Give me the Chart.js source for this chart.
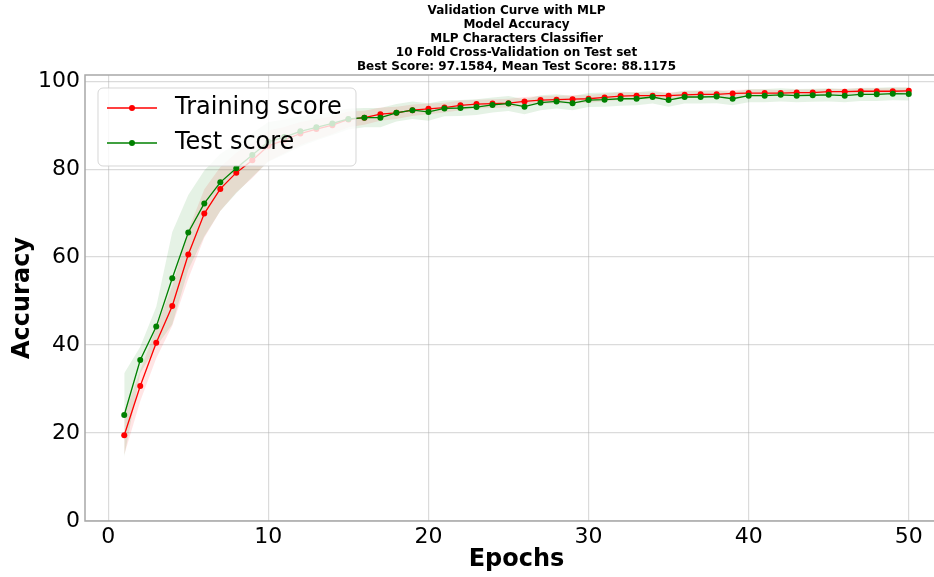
<!DOCTYPE html>
<html>
<head>
<meta charset="utf-8">
<script src="https://cdn.jsdelivr.net/npm/chart.js@4/dist/chart.umd.min.js"></script>
<style>
  html, body { margin: 0; padding: 0; background: #fff; overflow: hidden; }
  #wrap { position: relative; width: 955px; height: 577px; }
</style>
</head>
<body>
<div id="wrap"><canvas id="chart" width="955" height="577"></canvas></div>
<script>
const titleLines = [
    'Validation Curve with MLP',
    'Model Accuracy',
    'MLP Characters Classifier',
    '10 Fold Cross-Validation on Test set',
    'Best Score: 97.1584, Mean Test Score: 88.1175'
];

const epochs = [1, 2, 3, 4, 5, 6, 7, 8, 9, 10,
    11, 12, 13, 14, 15, 16, 17, 18, 19, 20,
    21, 22, 23, 24, 25, 26, 27, 28, 29, 30,
    31, 32, 33, 34, 35, 36, 37, 38, 39, 40,
    41, 42, 43, 44, 45, 46, 47, 48, 49, 50];

const trainMean = [19.5, 30.7, 40.5, 48.9, 60.6, 69.9, 75.5, 79.2, 82.0, 85.3,
    86.6, 88.1, 89.1, 90.0, 91.3, 91.7, 92.5, 92.8, 93.4, 93.7,
    94.0, 94.5, 94.8, 94.9, 95.0, 95.4, 95.7, 95.8, 95.9, 96.0,
    96.3, 96.6, 96.7, 96.7, 96.7, 96.9, 97.0, 97.0, 97.2, 97.3,
    97.3, 97.3, 97.4, 97.4, 97.6, 97.6, 97.7, 97.7, 97.7, 97.8];
const trainStd = [4.5, 3.5, 3.5, 4.5, 5.5, 5.5, 5.0, 4.5, 4.0, 3.5,
    3.0, 2.6, 2.3, 2.0, 1.8, 1.6, 1.5, 1.4, 1.3, 1.2,
    1.1, 1.1, 1.0, 1.0, 1.0, 1.0, 0.9, 0.9, 0.9, 0.9,
    0.9, 0.9, 0.8, 0.8, 0.8, 0.8, 0.8, 0.8, 0.8, 0.8,
    0.8, 0.7, 0.7, 0.7, 0.7, 0.7, 0.7, 0.7, 0.7, 0.7];

const testMean = [24.1, 36.6, 44.2, 55.2, 65.6, 72.2, 77.0, 80.2, 83.2, 86.2,
    87.3, 88.6, 89.5, 90.4, 91.4, 91.7, 91.7, 92.8, 93.4, 93.0,
    93.8, 93.9, 94.1, 94.6, 94.9, 94.2, 95.1, 95.4, 95.0, 95.7,
    95.8, 96.0, 96.0, 96.4, 95.7, 96.4, 96.4, 96.5, 96.0, 96.7,
    96.7, 96.9, 96.7, 96.8, 96.9, 96.7, 97.0, 97.0, 97.16, 97.1];
const testStd = [9.5, 3.0, 4.5, 10.5, 8.5, 7.5, 6.5, 5.7, 5.0, 4.5,
    4.0, 3.5, 3.0, 2.7, 2.4, 2.2, 2.2, 2.0, 2.0, 2.0,
    1.8, 1.8, 1.8, 1.7, 1.7, 1.7, 1.7, 1.6, 1.6, 1.6,
    1.6, 1.6, 1.5, 1.5, 1.5, 1.5, 1.5, 1.5, 1.5, 1.5,
    1.5, 1.5, 1.5, 1.5, 1.5, 1.5, 1.5, 1.5, 1.5, 1.5];

const xTicks = [0, 10, 20, 30, 40, 50];
const yTicks = [0, 20, 40, 60, 80, 100];

const FONT = "'DejaVu Sans', 'Liberation Sans', sans-serif";
const RED = '#ff0000';
const GREEN = '#008000';

const toPoints = (ys) => ys.map((y, i) => ({ x: epochs[i], y: y }));
const bandEdge = (mean, std, sign) => mean.map((m, i) => ({ x: epochs[i], y: m + sign * std[i] }));

// axes frame on all four sides
const frame = {
    id: 'frame',
    afterDatasetsDraw(chart) {
        const a = chart.chartArea;
        const ctx = chart.ctx;
        ctx.save();
        ctx.strokeStyle = '#a8a8a8';
        ctx.lineWidth = 1.5;
        ctx.strokeRect(a.left, a.top, a.right - a.left, a.bottom - a.top);
        ctx.restore();
    }
};

// legend box sitting inside the plot, upper left
const boxLegend = {
    id: 'boxLegend',
    afterDatasetsDraw(chart) {
        const ctx = chart.ctx;
        const x = 98, y = 88, w = 258, h = 78, r = 5;
        ctx.save();
        ctx.beginPath();
        ctx.moveTo(x + r, y);
        ctx.arcTo(x + w, y, x + w, y + h, r);
        ctx.arcTo(x + w, y + h, x, y + h, r);
        ctx.arcTo(x, y + h, x, y, r);
        ctx.arcTo(x, y, x + w, y, r);
        ctx.closePath();
        ctx.fillStyle = 'rgba(255,255,255,0.8)';
        ctx.fill();
        ctx.strokeStyle = 'rgba(204,204,204,0.8)';
        ctx.lineWidth = 1;
        ctx.stroke();

        const items = [
            { text: 'Training score', color: RED, cy: 108 },
            { text: 'Test score', color: GREEN, cy: 143 }
        ];
        items.forEach(it => {
            ctx.strokeStyle = it.color;
            ctx.lineWidth = 1.3;
            ctx.beginPath();
            ctx.moveTo(107, it.cy);
            ctx.lineTo(157, it.cy);
            ctx.stroke();
            ctx.fillStyle = it.color;
            ctx.beginPath();
            ctx.arc(132, it.cy, 3, 0, Math.PI * 2);
            ctx.fill();
            ctx.fillStyle = '#000';
            ctx.font = '24px ' + FONT;
            ctx.textBaseline = 'middle';
            ctx.textAlign = 'left';
            ctx.fillText(it.text, 175, it.cy);
        });
        ctx.restore();
    }
};

const lineStyle = (color) => ({
    borderColor: color,
    backgroundColor: color,
    borderWidth: 1.3,
    pointRadius: 3,
    pointBorderWidth: 0,
    pointBackgroundColor: color,
    fill: false,
    tension: 0
});

const bandStyle = (fillColor, fill) => ({
    borderWidth: 0,
    borderColor: 'rgba(0,0,0,0)',
    backgroundColor: fillColor,
    pointRadius: 0,
    fill: fill,
    tension: 0
});

new Chart(document.getElementById('chart'), {
    type: 'line',
    data: {
        datasets: [
            Object.assign({ label: 'Test score', data: toPoints(testMean), order: 0 }, lineStyle(GREEN)),
            Object.assign({ label: 'Training score', data: toPoints(trainMean), order: 1 }, lineStyle(RED)),
            Object.assign({ data: bandEdge(trainMean, trainStd, 1), order: 3 }, bandStyle('rgba(255,0,0,0.1)', '+1')),
            Object.assign({ data: bandEdge(trainMean, trainStd, -1), order: 3 }, bandStyle('rgba(255,0,0,0)', false)),
            Object.assign({ data: bandEdge(testMean, testStd, 1), order: 2 }, bandStyle('rgba(0,128,0,0.1)', '+1')),
            Object.assign({ data: bandEdge(testMean, testStd, -1), order: 2 }, bandStyle('rgba(0,128,0,0)', false))
        ]
    },
    options: {
        responsive: false,
        animation: false,
        devicePixelRatio: 1,
        layout: { padding: { left: 0, right: 7, top: 0, bottom: 0 } },
        scales: {
            x: {
                type: 'linear',
                min: -1.45,
                max: 52.45,
                afterBuildTicks: (s) => { s.ticks = xTicks.map(v => ({ value: v })); },
                afterFit: (s) => { s.height = 56; },
                grid: { color: 'rgba(176,176,176,0.45)', lineWidth: 1.2, drawTicks: false },
                border: { display: false },
                ticks: { font: { family: FONT, size: 22 }, color: '#000', padding: 3, maxRotation: 0, autoSkip: false },
                title: {
                    display: true, text: 'Epochs', color: '#000',
                    font: { family: FONT, size: 24, weight: 'bold' },
                    padding: { top: 0, bottom: 3 }
                }
            },
            y: {
                min: 0,
                max: 101.4,
                afterBuildTicks: (s) => { s.ticks = yTicks.map(v => ({ value: v })); },
                afterFit: (s) => { s.width = 85; },
                grid: { color: 'rgba(176,176,176,0.45)', lineWidth: 1.2, drawTicks: false },
                border: { display: false },
                ticks: { font: { family: FONT, size: 22 }, color: '#000', padding: 5 },
                title: {
                    display: true, text: 'Accuracy', color: '#000',
                    font: { family: FONT, size: 24, weight: 'bold' },
                    padding: { top: 8, bottom: 0 }
                }
            }
        },
        plugins: {
            legend: { display: false },
            tooltip: { enabled: false },
            title: {
                display: true,
                fullSize: false,
                text: titleLines,
                color: '#000',
                font: { family: FONT, size: 12, weight: 'bold', lineHeight: '14px' },
                padding: { top: 4, bottom: 1 }
            }
        }
    },
    plugins: [frame, boxLegend]
});
</script>
</body>
</html>
